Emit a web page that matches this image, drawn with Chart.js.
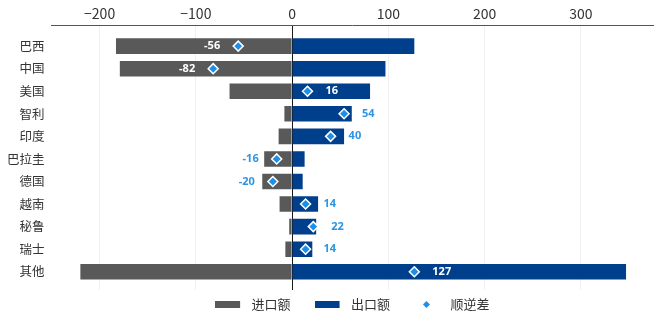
<!DOCTYPE html>
<html><head><meta charset="utf-8">
<script src="https://cdn.jsdelivr.net/npm/chart.js@4/dist/chart.umd.min.js"></script>
<style>html,body{margin:0;padding:0;background:#fff}#wrap{width:660px;height:324px}</style>
</head><body><div id="wrap"><canvas id="c" width="660" height="324"></canvas></div>
<script>
const categories = ['巴西','中国','美国','智利','印度','巴拉圭','德国','越南','秘鲁','瑞士','其他'];
const importValues = [-183,-179,-65,-8,-14,-29,-31,-13,-3,-7,-220];
const exportValues = [127,97,81,62,54,13,11,27,25,21,347];
const balanceValues = [-56,-82,16,54,40,-16,-20,14,22,14,127];
const xTickValues = [-200,-100,0,100,200,300];
const seriesNames = ['进口额','出口额','顺逆差'];

const IMPORT_COLOR = '#595959';
const EXPORT_COLOR = '#003f8c';
const BALANCE_COLOR = '#1e8fe8';
const LABEL_BLUE = '#2b95e3';

Chart.defaults.font.family = '"Noto Sans CJK SC", "Noto Sans", sans-serif';

function swatch(kind, color) {
  const c = document.createElement('canvas');
  c.width = 30; c.height = 7;
  const g = c.getContext('2d');
  g.fillStyle = color;
  if (kind === 'rect') {
    g.fillRect(0, 0, 25, 7);
  } else {
    g.beginPath();
    g.moveTo(12.5, 0); g.lineTo(16, 3.5); g.lineTo(12.5, 7); g.lineTo(9, 3.5);
    g.closePath(); g.fill();
  }
  return c;
}

const netLabels = {
  id: 'netLabels',
  afterDatasetsDraw(chart) {
    const ctx = chart.ctx;
    const pts = chart.getDatasetMeta(2).data;
    const imp = chart.getDatasetMeta(0).data;
    const exp = chart.getDatasetMeta(1).data;
    ctx.save();
    ctx.font = 'bold 11px "Noto Sans", sans-serif';
    ctx.textBaseline = 'middle';
    balanceValues.forEach((v, i) => {
      const p = pts[i];
      const txt = String(v);
      const w = ctx.measureText(txt).width;
      let x, inside;
      if (v >= 0) {
        ctx.textAlign = 'left'; x = p.x + 18; inside = x + w + 2 <= exp[i].x;
      } else {
        ctx.textAlign = 'right'; x = p.x - 18; inside = x - w - 2 >= imp[i].x;
      }
      ctx.fillStyle = inside ? '#ffffff' : LABEL_BLUE;
      ctx.fillText(txt, x, p.y);
    });
    ctx.restore();
  }
};

new Chart(document.getElementById('c'), {
  type: 'bar',
  data: {
    datasets: [
      { type: 'bar', label: seriesNames[0], data: importValues.map((v, i) => ({x: v, y: i})),
        backgroundColor: IMPORT_COLOR, grouped: false, categoryPercentage: 1, barPercentage: 0.69, order: 1 },
      { type: 'bar', label: seriesNames[1], data: exportValues.map((v, i) => ({x: v, y: i})),
        backgroundColor: EXPORT_COLOR, grouped: false, categoryPercentage: 1, barPercentage: 0.69, order: 1 },
      { type: 'scatter', label: seriesNames[2], data: balanceValues.map((v, i) => ({x: v, y: i})),
        pointStyle: 'rectRot', pointRadius: 5, pointHoverRadius: 5, backgroundColor: BALANCE_COLOR,
        borderColor: '#ffffff', borderWidth: 1.5, order: 0 }
    ]
  },
  options: {
    indexAxis: 'y',
    responsive: false,
    animation: false,
    events: [],
    layout: { padding: { left: 0, right: 7, top: 1, bottom: 3 } },
    scales: {
      x: {
        type: 'linear', position: 'top', min: -250, max: 375, offset: false,
        afterBuildTicks: s => { s.ticks = xTickValues.map(v => ({value: v})); },
        ticks: { callback: v => v < 0 ? '\u2212' + Math.abs(v) : String(v), font: {size: 14}, color: '#333', padding: 4 },
        grid: { color: c => (c.tick && c.tick.value === 0) ? '#1a1a1a' : '#f0f0f0', drawTicks: false, tickLength: 0, lineWidth: 1, offset: false },
        border: { display: true, color: '#555', width: 1 }
      },
      y: {
        type: 'linear', reverse: true, min: -0.9, max: 10.81, offset: false,
        afterBuildTicks: s => { s.ticks = categories.map((c, i) => ({value: i})); },
        ticks: { callback: v => categories[v], font: {size: 12.5}, color: '#333', padding: 7, autoSkip: false },
        grid: { display: false, drawTicks: false, tickLength: 0, offset: false },
        border: { display: false }
      }
    },
    plugins: {
      tooltip: { enabled: false },
      legend: {
        position: 'bottom',
        fullSize: false,
        labels: {
          usePointStyle: true,
          pointStyleWidth: 30,
          padding: 8,
          font: { size: 13 },
          color: '#333',
          generateLabels: chart => chart.data.datasets.map((d, i) => ({
            text: i < 2 ? d.label + '\u3000 ' : d.label,
            fillStyle: d.backgroundColor,
            strokeStyle: 'rgba(0,0,0,0)',
            lineWidth: 0,
            hidden: false,
            datasetIndex: i,
            fontColor: '#333',
            pointStyle: swatch(i < 2 ? 'rect' : 'diamond', d.backgroundColor)
          }))
        }
      }
    }
  },
  plugins: [netLabels]
});
</script>
</body></html>
